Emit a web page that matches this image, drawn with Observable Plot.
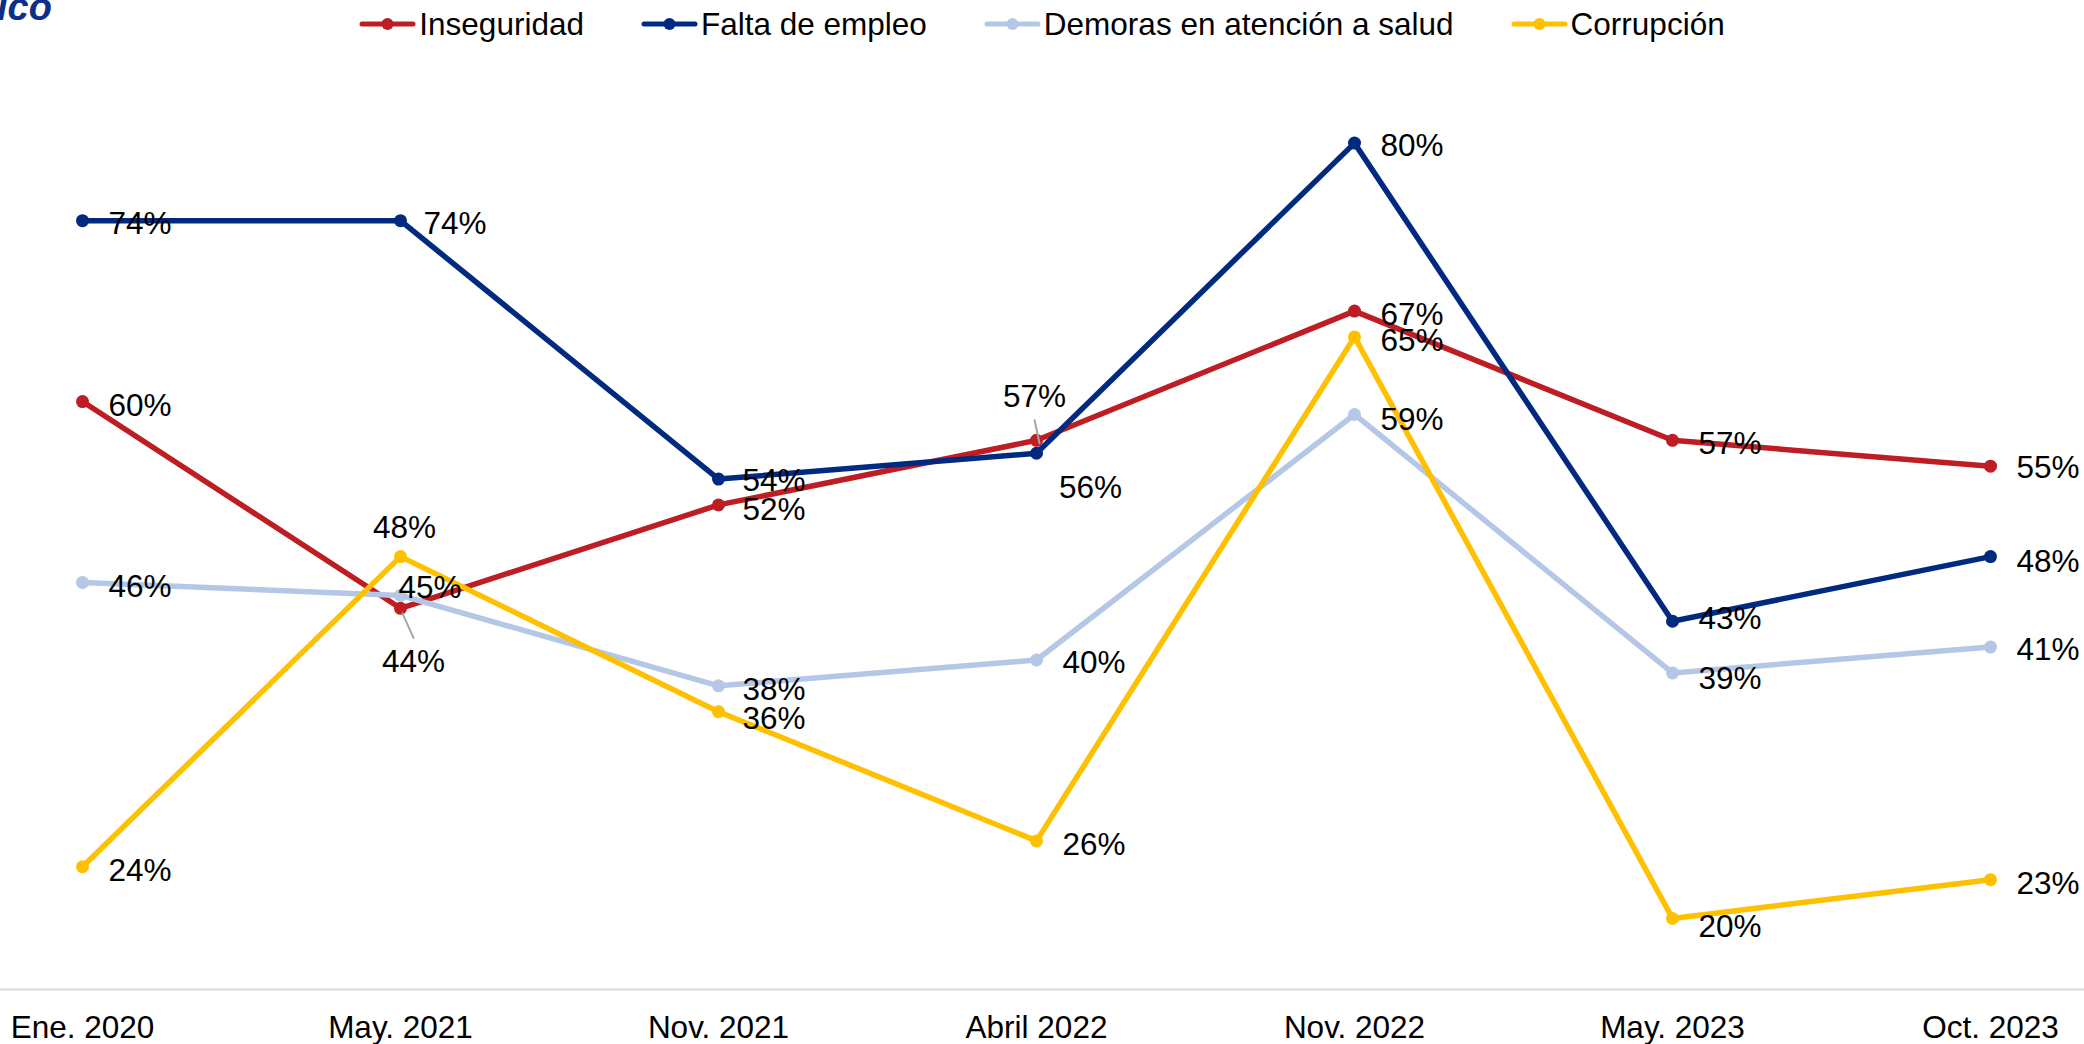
<!DOCTYPE html>
<html>
<head>
<meta charset="utf-8">
<script src="https://cdn.jsdelivr.net/npm/d3@7"></script>
<script src="https://cdn.jsdelivr.net/npm/@observablehq/plot@0.6"></script>
<style>
  html, body { margin: 0; padding: 0; background: #fff; overflow: hidden; }
  body { width: 2084px; height: 1044px; font-family: "Liberation Sans", Arial, sans-serif; }
  #header { position: relative; width: 2084px; height: 50px; }
  #title { position: absolute; left: -3px; top: -12px; font-style: italic; font-weight: bold; font-size: 38px; line-height: 1; color: #0d2f8a; white-space: nowrap; }
  #legend { position: absolute; left: 0; top: 0; width: 2084px; height: 48px; display: flex; justify-content: center; align-items: center; gap: 57px; font-size: 31.5px; color: #000; }
  .item { display: flex; align-items: center; }
  .item svg { margin-right: 3px; display: block; }
  #chart svg { display: block; }
</style>
</head>
<body>
<div id="header"><div id="title">ico</div><div id="legend"></div></div>
<div id="chart"></div>
<script>
// ---- Data ----
const periods = ["Ene. 2020", "May. 2021", "Nov. 2021", "Abril 2022", "Nov. 2022", "May. 2023", "Oct. 2023"];
const seriesNames = ["Inseguridad", "Falta de empleo", "Demoras en atención a salud", "Corrupción"];
const inseguridad = [60, 44, 52, 57, 67, 57, 55];
const faltaEmpleo = [74, 74, 54, 56, 80, 43, 48];
const demorasSalud = [46, 45, 38, 40, 59, 39, 41];
const corrupcion = [24, 48, 36, 26, 65, 20, 23];

// ---- Styles ----
const seriesColors = ["#be1e23", "#002a80", "#b4c7e7", "#ffc000"];
const FONT = "Liberation Sans, Arial, sans-serif";
const FS = 31.5;

const valuesBySeries = [inseguridad, faltaEmpleo, demorasSalud, corrupcion];
const rows = [];
seriesNames.forEach((s, i) => periods.forEach((p, j) => rows.push({serie: s, period: p, value: valuesBySeries[i][j]})));

// label placement (pixel offsets) — default: right of the point
const defaultPos = {anchor: "start", dx: 26, dy: 4};
const labelPos = {
  "Inseguridad|May. 2021": {anchor: "middle", dx: 13, dy: 54},
  "Inseguridad|Abril 2022": {anchor: "middle", dx: -2, dy: -43},
  "Inseguridad|Nov. 2021": {anchor: "start", dx: 24, dy: 5},
  "Inseguridad|Oct. 2023": {anchor: "start", dx: 26, dy: 2},
  "Falta de empleo|Abril 2022": {anchor: "middle", dx: 54, dy: 35},
  "Falta de empleo|Nov. 2021": {anchor: "start", dx: 24, dy: 2},
  "Falta de empleo|May. 2021": {anchor: "start", dx: 23, dy: 3},
  "Falta de empleo|Ene. 2020": {anchor: "start", dx: 26, dy: 3},
  "Falta de empleo|Nov. 2022": {anchor: "start", dx: 26, dy: 3},
  "Falta de empleo|May. 2023": {anchor: "start", dx: 26, dy: -2},
  "Falta de empleo|Oct. 2023": {anchor: "start", dx: 26, dy: 5},
  "Demoras en atención a salud|May. 2021": {anchor: "start", dx: -2, dy: -7},
  "Demoras en atención a salud|Nov. 2021": {anchor: "start", dx: 24, dy: 4},
  "Demoras en atención a salud|Abril 2022": {anchor: "start", dx: 26, dy: 3},
  "Demoras en atención a salud|May. 2023": {anchor: "start", dx: 26, dy: 6},
  "Demoras en atención a salud|Oct. 2023": {anchor: "start", dx: 26, dy: 3},
  "Demoras en atención a salud|Nov. 2022": {anchor: "start", dx: 26, dy: 5},
  "Corrupción|May. 2021": {anchor: "middle", dx: 4, dy: -29},
  "Corrupción|Nov. 2021": {anchor: "start", dx: 24, dy: 7},
  "Corrupción|May. 2023": {anchor: "start", dx: 26, dy: 8}
};
// leader lines for displaced labels
const leaders = [
  {serie: "Inseguridad", period: "May. 2021", dx: 2, dy: 5, length: 27, rotate: 156},
  {serie: "Inseguridad", period: "Abril 2022", dx: 3, dy: 3, length: 23.5, rotate: -12}
];

// ---- Legend ----
const legend = document.getElementById("legend");
seriesNames.forEach((s, i) => {
  const it = document.createElement("div");
  it.className = "item";
  it.innerHTML = `<svg width="57" height="16"><line x1="3" x2="54" y1="8" y2="8" stroke="${seriesColors[i]}" stroke-width="5" stroke-linecap="round"/><circle cx="28.5" cy="8" r="6" fill="${seriesColors[i]}"/></svg><span>${s}</span>`;
  legend.appendChild(it);
});

// ---- Chart ----
const marks = [
  Plot.ruleY([14.5], {stroke: "#d9d9d9", strokeWidth: 2})
];
seriesNames.forEach((s, i) => {
  const d = rows.filter(r => r.serie === s);
  marks.push(Plot.line(d, {x: "period", y: "value", stroke: seriesColors[i], strokeWidth: 5.5, strokeLinejoin: "round"}));
  marks.push(Plot.dot(d, {x: "period", y: "value", fill: seriesColors[i], r: 6.5, stroke: "none"}));
});
leaders.forEach(l => {
  const d = rows.filter(r => r.serie === l.serie && r.period === l.period);
  marks.push(Plot.vector(d, {
    x: "period", y: "value", length: l.length, rotate: l.rotate, anchor: "start",
    dx: l.dx, dy: l.dy, stroke: "#a6a6a6", strokeWidth: 2,
    shape: {draw(context, length) { context.moveTo(0, 0); context.lineTo(0, -length); }}
  }));
});
rows.forEach(r => {
  const pos = labelPos[r.serie + "|" + r.period] || defaultPos;
  marks.push(Plot.text([r], {
    x: "period", y: "value", text: d => d.value + "%",
    textAnchor: pos.anchor, dx: pos.dx, dy: pos.dy,
    fontSize: FS, fill: "#000", lineAnchor: "middle"
  }));
});
marks.push(Plot.axisX({tickSize: 0, tickPadding: 26, fontSize: FS, fill: "#000"}));

const chart = Plot.plot({
  width: 2084,
  height: 994,
  marginTop: 28,
  marginBottom: 55,
  marginLeft: 0,
  marginRight: 0,
  style: {fontFamily: FONT, fontSize: FS + "px", background: "#fff", overflow: "visible"},
  x: {type: "point", domain: periods, range: [81, 1990], padding: 0, label: null},
  y: {domain: [14.5, 85], axis: null},
  marks
});
document.getElementById("chart").appendChild(chart);
</script>
</body>
</html>
